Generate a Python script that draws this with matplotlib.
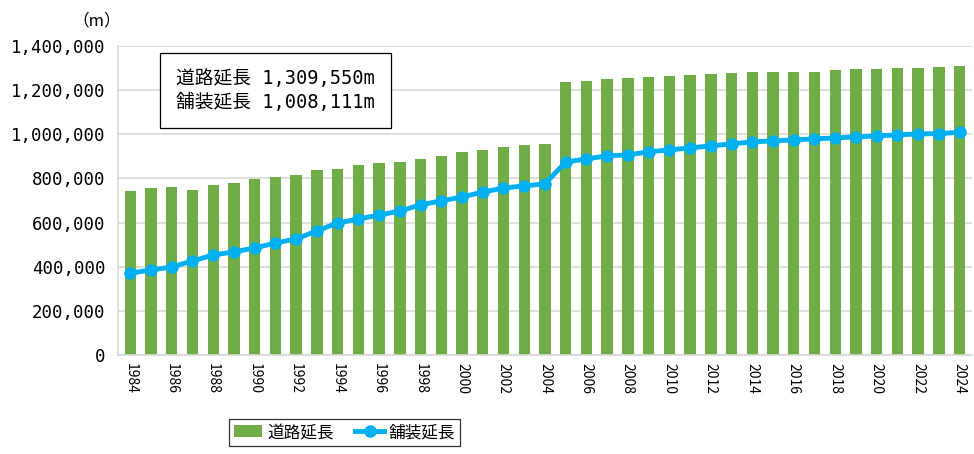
import matplotlib
matplotlib.use("Agg")
import matplotlib.pyplot as plt
from matplotlib.ticker import FuncFormatter

plt.rcParams['font.family'] = ['Noto Sans CJK JP', 'DejaVu Sans']

years = list(range(1984, 2025))
road_length = [743000, 756000, 761000, 748000, 770000, 779000, 797000, 806000, 815000, 838000,
               843000, 861000, 870000, 874000, 888000, 902000, 920000, 929000, 942000, 951000,
               956000, 1237000, 1241000, 1250000, 1255000, 1260000, 1264000, 1268000, 1273000, 1277000,
               1282000, 1282000, 1283000, 1283000, 1291000, 1296000, 1297000, 1300000, 1301000, 1305000,
               1309550]
paved_length = [371000, 385000, 399000, 426000, 453000, 467000, 485000, 507000, 526000, 562000,
                598000, 616000, 634000, 652000, 680000, 698000, 716000, 738000, 756000, 766000,
                775000, 874000, 888000, 902000, 906000, 920000, 929000, 938000, 947000, 956000,
                965000, 970000, 974000, 979000, 983000, 988000, 992000, 997000, 1001000, 1003000,
                1008111]
label_road = "道路延長"
label_paved = "舗装延長"
info_text = "道路延長 1,309,550m\n舗装延長 1,008,111m"

mono = ['DejaVu Sans Mono', 'Noto Sans CJK JP']

fig = plt.figure(figsize=(9.74, 4.54), dpi=100)
ax = fig.add_axes([0.121, 0.218, 0.877, 0.681])

x = list(range(len(years)))
bars = ax.bar(x, road_length, width=0.55, color='#70AD47', label=label_road, zorder=2)
line, = ax.plot(x, paved_length, color='#00B0F0', linewidth=3.5, marker='o', markersize=8,
                label=label_paved, zorder=3)

ax.set_xlim(-0.6, len(years) - 0.4)
ax.set_ylim(0, 1400000)
ax.set_yticks(range(0, 1400001, 200000))
ax.yaxis.set_major_formatter(FuncFormatter(lambda v, p: f"{int(v):,}"))
ax.set_xticks(x[::2])
ax.set_xticklabels([str(y) for y in years[::2]], rotation=-90)
ax.tick_params(axis='both', length=0, colors='#000000')
ax.tick_params(axis='x', pad=6, labelsize=10)
ax.tick_params(axis='y', pad=9)
for lbl in ax.get_yticklabels():
    lbl.set_fontfamily(mono)
    lbl.set_fontsize(12.5)
    lbl.set_fontweight('light')
ax.grid(axis='y', color='#d9d9d9', linewidth=1.2, zorder=0)
ax.set_axisbelow(True)
for s in ['top', 'right']:
    ax.spines[s].set_visible(False)
ax.spines['left'].set_color('#d9d9d9')
ax.spines['left'].set_linewidth(1.2)
ax.spines['bottom'].set_color('#d9d9d9')
ax.spines['bottom'].set_linewidth(1.2)

fig.text(0.074, 0.955, "（m）", fontsize=12, ha='left', va='center')

ax.text(0.068, 0.855, info_text, transform=ax.transAxes, fontsize=13.5, ha='left', va='center',
        linespacing=1.3, family=mono,
        bbox=dict(boxstyle='square,pad=0.85', facecolor='white', edgecolor='#000000', linewidth=0.9))

leg = fig.legend([bars, line], [label_road, label_paved],
                 loc='upper left', bbox_to_anchor=(0.235, 0.077), ncol=2, fontsize=12,
                 frameon=True, fancybox=False, edgecolor='#000000', handlelength=1.7,
                 handletextpad=0.3, columnspacing=1.3, borderpad=0.3, borderaxespad=0)
leg.get_frame().set_linewidth(0.9)

fig.savefig("out.png", dpi=100)
